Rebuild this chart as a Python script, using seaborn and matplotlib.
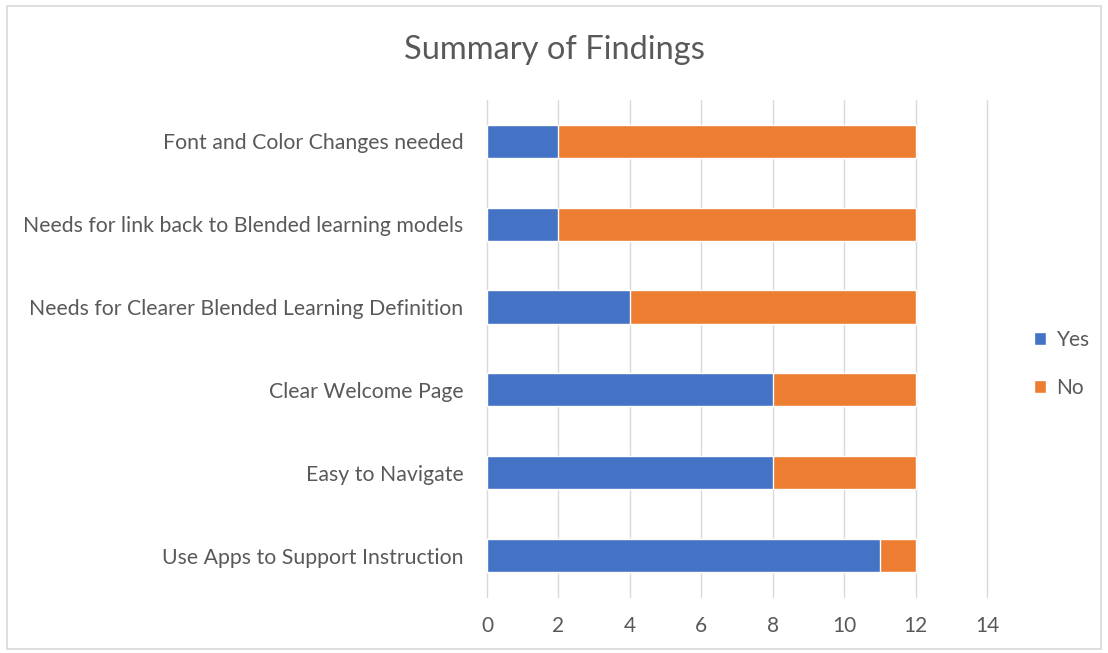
import matplotlib
matplotlib.use("Agg")
import matplotlib.pyplot as plt
from matplotlib.patches import Patch, Rectangle
import seaborn as sns
import pandas as pd

# Survey results
categories = [
    "Font and Color Changes needed",
    "Needs for link back to Blended learning models",
    "Needs for Clearer Blended Learning Definition",
    "Clear Welcome Page",
    "Easy to Navigate",
    "Use Apps to Support Instruction",
]
yes_counts = [2, 2, 4, 8, 8, 11]
no_counts = [10, 10, 8, 4, 4, 1]
x_ticks = [0, 2, 4, 6, 8, 10, 12, 14]

blue = "#4472C4"
orange = "#ED7D31"
text_col = "#595959"

df = pd.DataFrame({"Finding": categories, "Yes": yes_counts, "No": no_counts})
df["Total"] = df["Yes"] + df["No"]

sns.set_style("white")
plt.rcParams["font.family"] = ["Lato", "DejaVu Sans"]

fig = plt.figure(figsize=(11.08, 6.53), dpi=100)
ax = fig.add_axes([0.4395, 0.0858, 0.4513, 0.7612])

# stacked: total (orange) underneath, yes (blue) on top
sns.barplot(data=df, y="Finding", x="Total", orient="h", color=orange,
            width=0.4, saturation=1, ax=ax, zorder=2)
sns.barplot(data=df, y="Finding", x="Yes", orient="h", color=blue,
            width=0.4, saturation=1, ax=ax, zorder=3)

ax.set_xlim(0, 14)
ax.set_ylim(5.5, -0.5)
ax.set_xticks(x_ticks)
ax.set_xticklabels([str(t) for t in x_ticks])
ax.set_xlabel("")
ax.set_ylabel("")
ax.grid(axis="x", color="#D9D9D9", linewidth=1, zorder=0)
for gl in ax.get_xgridlines():
    gl.set_clip_on(False)
ax.set_axisbelow(True)
for s in ax.spines.values():
    s.set_visible(False)
ax.tick_params(axis="y", length=0, pad=17, labelsize=15.3, labelcolor=text_col)
ax.tick_params(axis="x", length=0, pad=14, labelsize=15, labelcolor=text_col)

fig.suptitle("Summary of Findings", y=0.947, fontsize=23.5, color=text_col)

handles = [Patch(facecolor=blue, label="Yes"), Patch(facecolor=orange, label="No")]
fig.legend(handles=handles, loc="center left", bbox_to_anchor=(0.916, 0.443),
           frameon=False, fontsize=15, labelcolor=text_col, labelspacing=1.35,
           handlelength=0.6, handleheight=0.6, handletextpad=0.5)

# light border round the chart area
fig.patches.append(Rectangle((0.006, 0.006), 0.988, 0.985, transform=fig.transFigure,
                             fill=False, edgecolor="#D9D9D9", linewidth=1.2))

fig.savefig("out.png", dpi=100)
